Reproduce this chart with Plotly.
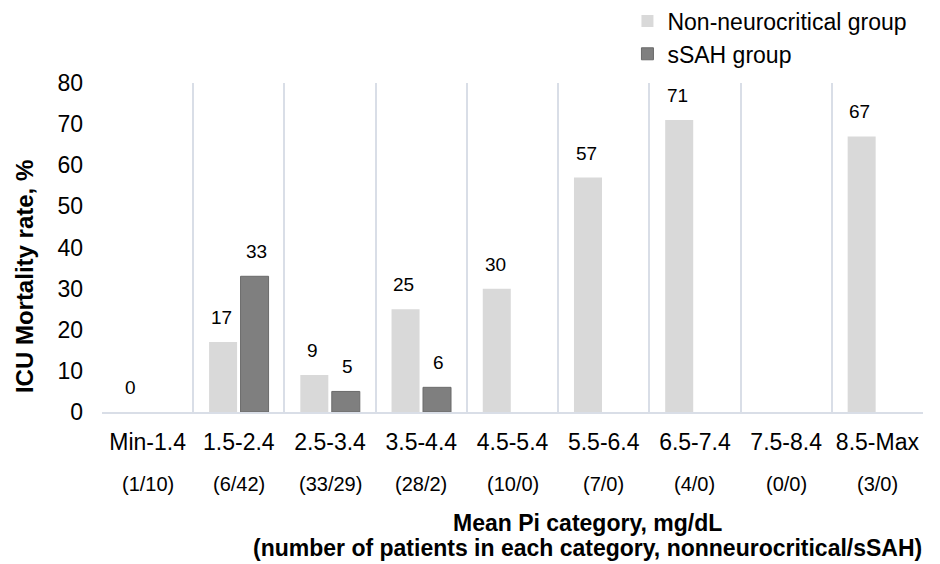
import plotly.graph_objects as go

categories = ["Min-1.4", "1.5-2.4", "2.5-3.4", "3.5-4.4", "4.5-5.4",
              "5.5-6.4", "6.5-7.4", "7.5-8.4", "8.5-Max"]
nonneuro_rate = [0, 17, 9, 25, 30, 57, 71, None, 67]
ssah_rate = [None, 33, 5, 6, None, None, None, None, None]
n_nonneuro = [1, 6, 33, 28, 10, 7, 4, 0, 3]
n_ssah = [10, 42, 29, 2, 0, 0, 0, 0, 0]
y_ticks = [0, 10, 20, 30, 40, 50, 60, 70, 80]
x_title_lines = ["Mean Pi category, mg/dL",
                 "(number of patients in each category, nonneurocritical/sSAH)"]
y_title = "ICU Mortality rate, %"

FONT = "Liberation Sans, Arial, sans-serif"
GRID = "#d9dee7"

fig = go.Figure()
fig.add_trace(go.Bar(
    x=categories, y=nonneuro_rate, name="Non-neurocritical group",
    marker=dict(color="#d9d9d9", line=dict(width=0)),
    legendgroup="a",
))
fig.add_trace(go.Bar(
    x=categories, y=ssah_rate, name="sSAH group",
    marker=dict(color="#7f7f7f", line=dict(color="#6a6a6a", width=1)),
    legendgroup="b",
))

annotations = []
shift = 17.5
for cat, v in zip(categories, nonneuro_rate):
    if v is not None:
        annotations.append(dict(x=cat, y=v, xref="x", yref="y", text=str(v),
                                showarrow=False, xshift=-shift, yshift=12,
                                yanchor="bottom",
                                font=dict(size=19, color="#000000", family=FONT)))
for cat, v in zip(categories, ssah_rate):
    if v is not None:
        annotations.append(dict(x=cat, y=v, xref="x", yref="y", text=str(v),
                                showarrow=False, xshift=shift, yshift=12,
                                yanchor="bottom",
                                font=dict(size=19, color="#000000", family=FONT)))
for cat, a, b in zip(categories, n_nonneuro, n_ssah):
    annotations.append(dict(x=cat, y=-0.219, xref="x", yref="paper",
                            text=f"({a}/{b})", showarrow=False,
                            yanchor="middle",
                            font=dict(size=20, color="#000000", family=FONT)))
for line, ypos in zip(x_title_lines, [-0.338, -0.414]):
    annotations.append(dict(
        x=0.591, y=ypos, xref="paper", yref="paper", xanchor="center",
        yanchor="middle", text=f"<b>{line}</b>", showarrow=False,
        font=dict(size=23, color="#000000", family=FONT)))
annotations.append(dict(
    x=-0.095, y=0.41, xref="paper", yref="paper", textangle=-90,
    xanchor="center", yanchor="middle",
    text=f"<b>{y_title}</b>", showarrow=False,
    font=dict(size=24, color="#000000", family=FONT)))

fig.update_layout(
    width=932, height=556,
    margin=dict(l=94, r=17, t=75, b=152, autoexpand=False),
    paper_bgcolor="white", plot_bgcolor="white",
    barmode="group", bargap=0.31, bargroupgap=0.11,
    font=dict(family=FONT, color="#000000"),
    showlegend=True,
    legend=dict(x=0.64, y=1.254, xanchor="left", yanchor="top",
                font=dict(size=23, color="#000000", family=FONT),
                traceorder="grouped", tracegroupgap=0,
                bgcolor="rgba(0,0,0,0)"),
    annotations=annotations,
)
fig.update_xaxes(
    type="category", tickson="boundaries", showgrid=True, gridcolor=GRID,
    gridwidth=1.5, showline=True, linecolor=GRID, linewidth=2,
    ticks="", tickangle=0, tickfont=dict(size=23, color="#000000", family=FONT),
    ticklabelstandoff=8,
)
fig.update_yaxes(
    range=[0, 80], tickvals=y_ticks, showgrid=False, zeroline=False,
    showline=False, ticks="", ticklabelstandoff=18,
    tickfont=dict(size=23, color="#000000", family=FONT),
)

fig.write_html("out.html")
